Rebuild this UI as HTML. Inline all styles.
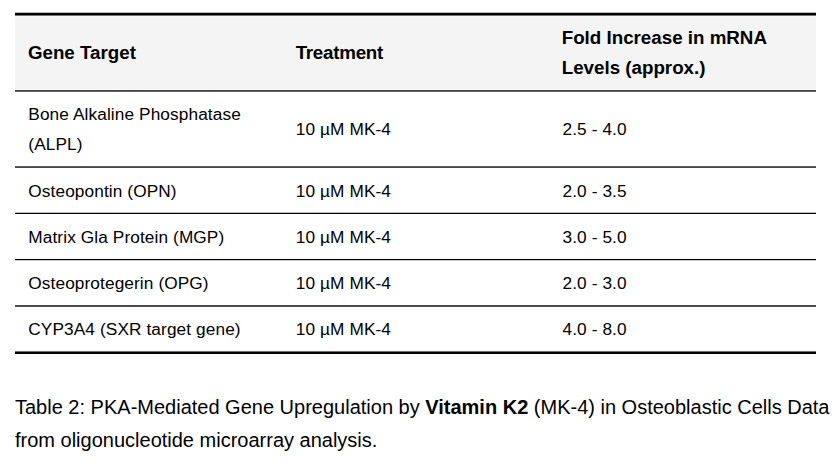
<!DOCTYPE html>
<html>
<head>
<meta charset="utf-8">
<title>Table 2: PKA-Mediated Gene Upregulation by Vitamin K2</title>
<style>
html, body { margin: 0; padding: 0; background: #fff; }
body {
  width: 835px; height: 464px; overflow: hidden; position: relative;
  font-family: "Liberation Sans", Arial, sans-serif; color: #000;
}
.wrap { position: absolute; left: 15px; top: 13px; width: 801px; }
table {
  width: 801px; border-collapse: separate; border-spacing: 0;
  table-layout: fixed; box-shadow: 0 -1px 0 rgb(190,190,190);
}
col { width: 266.66px; }
col.k3 { width: 267.68px; }
th, td {
  text-align: left; vertical-align: middle;
  padding: 0 12.5px; line-height: 30px;
}
th {
  font-size: 18.75px; font-weight: bold; background: #f4f4f4;
}
td { font-size: 17.25px; font-weight: normal; letter-spacing: 0.1px; }
td.c1 { padding-left: 13.3px; }
th.c1 { padding-left: 12.9px; }
td.c2 { padding-left: 14.1px; }
td.c3 { padding-left: 14.2px; }
th.c3 { padding-left: 13.4px; }
th.t2 { padding-left: 14px; letter-spacing: -0.25px; }
thead tr { height: 78px; }
thead th {
  border-top: 2px solid #000; border-bottom: 1px solid rgb(68,68,68);
  box-shadow: inset 0 1px 0 rgb(115,115,115), inset 0 2px 0 rgb(248,248,248), inset 0 -1px 0 rgb(250,250,250);
}
tr.r1 { height: 77px; }
tr.r1 td { border-bottom: 1px solid rgb(70,70,70);
  box-shadow: inset 0 1px 0 rgb(98,98,98), inset 0 -1px 0 rgb(95,95,95); }
tr.r2 { height: 46px; }
tr.r2 td { border-bottom: 1px solid rgb(0,0,0);
  box-shadow: inset 0 -1px 0 rgb(190,190,190); }
tr.r3 { height: 46px; }
tr.r3 td { border-bottom: 1px solid #000;
  box-shadow: inset 0 -1px 0 rgb(245,245,245); }
tr.r4 { height: 47px; }
tr.r4 td { border-bottom: 1px solid rgb(78,78,78);
  box-shadow: inset 0 1px 0 rgb(200,200,200), inset 0 -1px 0 rgb(72,72,72); }
tr.r5 { height: 47px; }
tr.r5 td { border-bottom: 2px solid #000; padding-bottom: 2px;
  box-shadow: inset 0 -1px 0 rgb(112,112,112); }
.caption {
  position: absolute; left: 15px; top: 391px; width: 820px;
  font-size: 20px; line-height: 32.5px; color: #000; white-space: nowrap;
}
</style>
</head>
<body>
<div class="wrap">
<table>
<colgroup><col><col><col class="k3"></colgroup>
<thead>
<tr><th class="c1">Gene Target</th><th class="t2">Treatment</th><th class="c3">Fold Increase in mRNA<br>Levels (approx.)</th></tr>
</thead>
<tbody>
<tr class="r1"><td class="c1">Bone Alkaline Phosphatase<br>(ALPL)</td><td class="c2">10 µM MK-4</td><td class="c3">2.5 - 4.0</td></tr>
<tr class="r2"><td class="c1">Osteopontin (OPN)</td><td class="c2">10 µM MK-4</td><td class="c3">2.0 - 3.5</td></tr>
<tr class="r3"><td class="c1">Matrix Gla Protein (MGP)</td><td class="c2">10 µM MK-4</td><td class="c3">3.0 - 5.0</td></tr>
<tr class="r4"><td class="c1">Osteoprotegerin (OPG)</td><td class="c2">10 µM MK-4</td><td class="c3">2.0 - 3.0</td></tr>
<tr class="r5"><td class="c1">CYP3A4 (SXR target gene)</td><td class="c2">10 µM MK-4</td><td class="c3">4.0 - 8.0</td></tr>
</tbody>
</table>
</div>
<div class="caption">Table 2: PKA-Mediated Gene Upregulation by <b>Vitamin K2</b> (MK-4) in Osteoblastic Cells Data<br>from oligonucleotide microarray analysis.</div>
</body>
</html>
